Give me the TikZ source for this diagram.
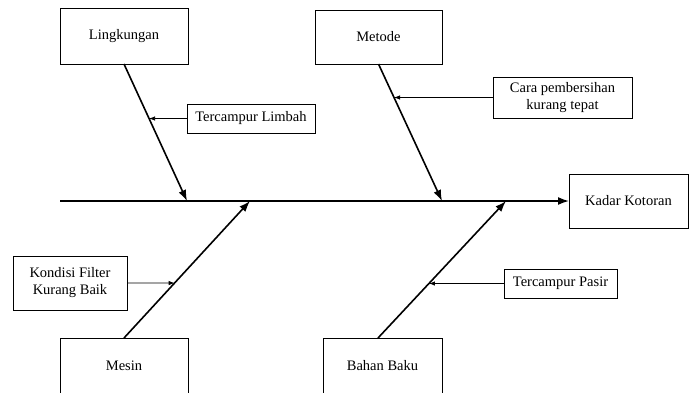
\documentclass[tikz,border=0pt]{standalone}
\usepackage{fontspec}
\setmainfont{Liberation Serif}
\usetikzlibrary{arrows.meta}
\begin{document}
\begin{tikzpicture}[x=1pt,y=-1pt,
  box/.style={draw, line width=0.8pt, inner sep=0pt, outer sep=0pt, align=center, font=\fontsize{14.5}{17}\selectfont},
  bone/.style={line width=1.6pt, -{Latex[length=11pt,width=8pt]}},
  sub/.style={line width=0.8pt, -{Latex[length=6pt,width=4.5pt]}}]
\useasboundingbox (0,0) rectangle (689,392);
\clip (0,0) rectangle (689,392);
% cause boxes
\node[box, minimum width=128pt, minimum height=56pt] (L) at (124,36) {Lingkungan};
\node[box, minimum width=127pt, minimum height=54pt] (M) at (378.5,37) {Metode};
\node[box, minimum width=128pt, minimum height=56pt] (Me) at (124,366) {Mesin};
\node[box, minimum width=119pt, minimum height=56pt] (B) at (382.5,366) {Bahan Baku};
% effect
\node[box, minimum width=119pt, minimum height=54pt] (K) at (628.5,201) {Kadar Kotoran};
% sub causes
\node[box, minimum width=128pt, minimum height=29pt] (TL) at (251,118.5) {Tercampur Limbah};
\node[box, minimum width=139pt, minimum height=41pt] (C) at (562.5,97.5) {Cara pembersihan\\kurang tepat};
\node[box, minimum width=114pt, minimum height=54pt] (KF) at (70,283) {Kondisi Filter\\Kurang Baik};
\node[box, minimum width=113pt, minimum height=29pt] (TP) at (560.5,283.5) {Tercampur Pasir};
% spine
\coordinate (s) at (60,201);
\coordinate (j1) at (187,201);
\coordinate (j2) at (442,201);
\coordinate (j3) at (250,201);
\coordinate (j4) at (506,201);
\coordinate (bs) at (378,338);
\draw[bone] (s) -- (K.west);
\draw[bone] (L.south) -- (j1);
\draw[bone] (M.south) -- (j2);
\draw[bone] (Me.north) -- (j3);
\draw[bone] (bs) -- (j4);
% sub arrows
\draw[sub] (TL.west) -- (intersection of L.south--j1 and TL.west--TL.east);
\draw[sub] (C.west) -- (intersection of M.south--j2 and C.west--C.east);
\draw[sub] (KF.east) -- (intersection of Me.north--j3 and KF.west--KF.east);
\draw[sub] (TP.west) -- (intersection of bs--j4 and TP.west--TP.east);
\end{tikzpicture}
\end{document}
